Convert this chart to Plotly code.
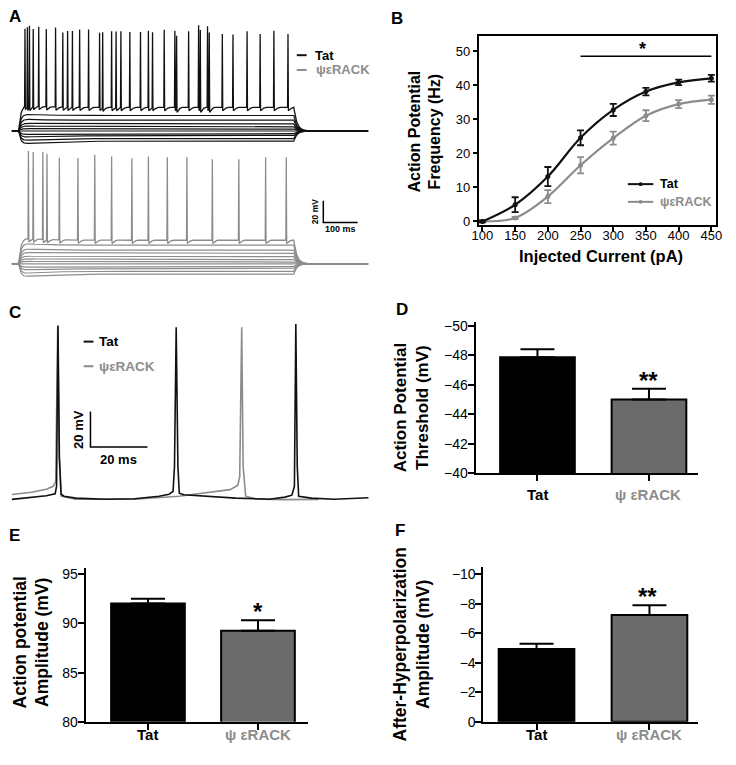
import numpy as np
import plotly.graph_objects as go

W, H = 736, 765
BLACK = '#111111'
GRAY = '#8c8c8c'
BARGRAY = '#6b6b6b'
FONT = 'Liberation Sans, Arial, sans-serif'

def X(px):
    return px / W

def Y(py):
    return 1 - py / H

# ---------------- Panel A data (ms, mV relative to rest) ----------------
A_step_on, A_step_off = 0, 800
A_t0, A_t1 = -20, 1017
tat_steps = [14.3, 10.0, 6.6, 4.3, 2.1, -0.3, -2.5, -4.5, -7.0, -9.4]
tat_spiking_level = 21.8
tat_spike_t = [18, 25, 31, 42, 58, 80, 107, 128, 142, 156, 177, 203, 235, 244, 270, 283, 297,
               323, 354, 377, 389, 423, 454, 459, 494, 523, 528, 549, 554, 592, 623, 664, 702, 742, 783]
tat_spike_peak = [93.6, 95.8, 97.6, 93.6, 95.2, 93.6, 95.2, 90.6, 92.1, 92.1, 93.6, 93.6, 90.6, 92.1,
                  92.1, 92.1, 92.1, 91.5, 91.5, 92.7, 91.5, 93.6, 92.7, 89.7, 92.1, 97.6, 95.2, 96.7,
                  92.7, 89.7, 89.1, 92.1, 89.7, 92.7, 89.7]
psi_steps = [17.3, 12.7, 9.7, 6.6, 4.3, 2.1, -0.3, -2.5, -4.5, -7.0, -9.4]
psi_spiking_level = 21.8
psi_spike_t = [28, 42, 70, 82, 118, 172, 221, 270, 329, 377, 432, 489, 563, 640, 718, 778]
psi_spike_peak = [102.7, 102.1, 102.7, 101.5, 97.6, 97.6, 100.6, 99.1, 97.6, 99.1, 98.5, 98.5,
                  96.7, 96.7, 98.5, 98.5]
psi_offset = -122.7

# ---------------- Panel B data ----------------
current = [100, 150, 200, 250, 300, 350, 400, 450]
freq_tat = [0, 4.9, 13.2, 24.6, 32.8, 38.2, 40.9, 42.1]
err_tat = [0.3, 2.2, 2.8, 2.2, 1.8, 1.1, 0.8, 1.0]
freq_psi = [0, 1.0, 7.3, 16.5, 24.5, 31.1, 34.5, 35.8]
err_psi = [0.2, 0.3, 1.9, 2.4, 1.9, 1.6, 1.2, 1.2]

# ---------------- Panel C data (ms, mV) ----------------
c_tat_t = [1.7, 8.6, 13.8, 16.9, 17.4, 17.9, 18.4, 19.0, 20.0, 24.1, 34.5, 44.8, 53.4, 56.9, 58.3,
           58.8, 59.4, 60.0, 60.5, 62.1, 69.0, 80.3, 92.1, 97.6, 100.0, 100.9, 101.4, 101.9, 102.4,
           106.9, 114.8, 122.4, 126.9]
c_tat_v = [-60.7, -59.4, -58.6, -57.5, -53.3, 37.4, -36.7, -57.8, -58.9, -60.0, -60.6, -60.3, -58.9,
           -57.8, -56.1, -42.2, 36.5, -42.2, -57.2, -58.1, -58.9, -60.0, -60.6, -59.4, -58.3, -53.3,
           38.3, -42.2, -58.9, -60.0, -60.6, -60.3, -59.8]
c_psi_t = [1.7, 8.6, 13.8, 16.2, 17.1, 17.8, 18.3, 19.0, 24.1, 44.8, 60.3, 69.0, 78.3, 81.0, 81.7,
           82.4, 82.9, 83.8, 87.2, 96.6, 109.3]
c_psi_v = [-57.9, -56.7, -55.0, -53.3, -50.6, 36.7, -36.7, -58.9, -60.6, -60.6, -58.9, -57.1, -55.2,
           -52.8, -47.8, 36.5, -42.2, -58.9, -60.4, -60.8, -60.7]

# ---------------- Panels D-F data ----------------
groups = ['Tat', 'ψεRACK']
thr_mean = [-47.85, -45.0]
thr_sem = [0.55, 0.73]
amp_mean = [92.03, 89.26]
amp_sem = [0.47, 1.07]
ahp_mean = [-4.93, -7.24]
ahp_sem = [0.36, 0.65]

fig = go.Figure()

# ---- Panel A traces ----
def sweep(d, spikes_t=(), spikes_p=()):
    t = np.arange(A_t0, A_t1, 1.0)
    extra = []
    for ts in spikes_t:
        extra += [ts - 1.2, ts, ts + 1.2]
    t = np.unique(np.concatenate([t, np.array(extra, dtype=float)]))
    v = np.zeros_like(t)
    on = (t >= A_step_on) & (t <= A_step_off)
    ti = t[on] - A_step_on
    sag = 1 + (0.35 if d < 0 else 0.12) * np.exp(-ti / 60.0)
    v[on] = d * (1 - np.exp(-ti / 6.0)) * sag
    off = t > A_step_off
    v[off] = d * np.exp(-(t[off] - A_step_off) / 9.0)
    for ts, p in zip(spikes_t, spikes_p):
        v += np.interp(t - ts, [-1.2, 0, 1.2, 4, 14], [0, p - d, -3, -2, 0], left=0, right=0)
    return t, v

for d in tat_steps:
    t, v = sweep(d)
    fig.add_trace(go.Scatter(x=t, y=v, mode='lines', line=dict(color=BLACK, width=1.2),
                             xaxis='x', yaxis='y', hoverinfo='skip'))
t, v = sweep(tat_spiking_level, tat_spike_t, tat_spike_peak)
fig.add_trace(go.Scatter(x=t, y=v, mode='lines', line=dict(color=BLACK, width=1.3),
                         xaxis='x', yaxis='y', hoverinfo='skip'))
for d in psi_steps:
    t, v = sweep(d)
    fig.add_trace(go.Scatter(x=t, y=v + psi_offset, mode='lines', line=dict(color=GRAY, width=1.2),
                             xaxis='x', yaxis='y', hoverinfo='skip'))
t, v = sweep(psi_spiking_level, psi_spike_t, psi_spike_peak)
fig.add_trace(go.Scatter(x=t, y=v + psi_offset, mode='lines', line=dict(color=GRAY, width=1.3),
                         xaxis='x', yaxis='y', hoverinfo='skip'))

# ---- Panel B ----
fig.add_trace(go.Scatter(x=current, y=freq_psi, mode='lines+markers', line=dict(color=GRAY, width=2.2, shape='spline'),
                         marker=dict(color=GRAY, size=5),
                         error_y=dict(type='data', array=err_psi, color=GRAY, thickness=1.8, width=3.5),
                         xaxis='x2', yaxis='y2'))
fig.add_trace(go.Scatter(x=current, y=freq_tat, mode='lines+markers', line=dict(color=BLACK, width=2.2, shape='spline'),
                         marker=dict(color=BLACK, size=5),
                         error_y=dict(type='data', array=err_tat, color=BLACK, thickness=1.8, width=3.5),
                         xaxis='x2', yaxis='y2'))

# ---- Panel C ----
fig.add_trace(go.Scatter(x=c_psi_t, y=c_psi_v, mode='lines', line=dict(color=GRAY, width=1.6),
                         xaxis='x3', yaxis='y3', hoverinfo='skip'))
fig.add_trace(go.Scatter(x=c_tat_t, y=c_tat_v, mode='lines', line=dict(color=BLACK, width=1.6),
                         xaxis='x3', yaxis='y3', hoverinfo='skip'))

# ---- Bars D, E, F ----
def bars(means, sems, xa, ya, up_is_negative):
    err = dict(type='data', symmetric=False, color='black', thickness=2, width=17)
    if up_is_negative:
        err.update(array=[0, 0], arrayminus=sems)
    else:
        err.update(array=sems, arrayminus=[0, 0])
    fig.add_trace(go.Bar(x=[0, 1], y=means, width=0.67,
                         marker=dict(color=['black', BARGRAY], line=dict(color='black', width=2)),
                         error_y=err, xaxis=xa, yaxis=ya))

bars(thr_mean, thr_sem, 'x4', 'y4', True)
bars(amp_mean, amp_sem, 'x5', 'y5', False)
bars(ahp_mean, ahp_sem, 'x6', 'y6', True)

tickfont = dict(family=FONT, size=14, color='black')

def bar_x(n, dom, rng):
    return dict(anchor=f'y{n}', domain=dom, range=rng, showline=True, linewidth=2, linecolor='black',
                ticks='outside', ticklen=6, tickwidth=2, tickcolor='black', tickvals=[0, 1],
                showticklabels=False, showgrid=False, zeroline=False)

def bar_y(n, dom, rng, tv):
    return dict(anchor=f'x{n}', domain=dom, range=rng, tickvals=tv, showline=True, linewidth=2,
                linecolor='black', ticks='outside', ticklen=6, tickwidth=2, tickcolor='black',
                showgrid=False, zeroline=False, tickfont=tickfont, ticklabelstandoff=-3)

fig.update_layout(
    width=W, height=H, margin=dict(l=0, r=0, t=0, b=0), paper_bgcolor='white', plot_bgcolor='white',
    showlegend=False,
    xaxis=dict(anchor='y', domain=[X(0), X(370)], range=[-34.3, 1022.9], visible=False),
    yaxis=dict(anchor='x', domain=[Y(285), Y(0)], range=[-141.8, 117.3], visible=False),
    xaxis2=dict(anchor='y2', domain=[X(480), X(722)], range=[94, 457.5], showline=True, mirror=True,
                linewidth=1.5, linecolor='black', ticks='outside', ticklen=4, tickwidth=1.5,
                tickcolor='black', tickvals=current, showgrid=False, zeroline=False, ticklabelstandoff=-7,
                tickfont=dict(family=FONT, size=13, color='black')),
    yaxis2=dict(anchor='x2', domain=[Y(225), Y(33)], range=[-1.2, 54.4], showline=True, mirror=True,
                linewidth=1.5, linecolor='black', ticks='outside', ticklen=4, tickwidth=1.5,
                tickcolor='black', tickvals=[0, 10, 20, 30, 40, 50], showgrid=False, zeroline=False,
                tickfont=dict(family=FONT, size=13, color='black')),
    xaxis3=dict(anchor='y3', domain=[X(0), X(370)], range=[0, 127.6], visible=False),
    yaxis3=dict(anchor='x3', domain=[Y(515), Y(290)], range=[-67.2, 57.8], visible=False),
    xaxis4=bar_x(4, [X(477), X(703)], [-0.555, 1.436]),
    yaxis4=bar_y(4, [Y(476.7), Y(322.7)], [-40, -50.27], [-50, -48, -46, -44, -42, -40]),
    xaxis5=bar_x(5, [X(80), X(306)], [-0.567, 1.451]),
    yaxis5=bar_y(5, [Y(729.3), Y(573.3)], [80, 95.6], [80, 85, 90, 95]),
    xaxis6=bar_x(6, [X(485), X(703)], [-0.47, 1.426]),
    yaxis6=bar_y(6, [Y(729.3), Y(571.7)], [0, -10.5], [0, -2, -4, -6, -8, -10]),
)

ann = []
shapes = []

def text(px, py, s, size=14, color='black', bold=True, angle=0, xanchor='center', yanchor='middle'):
    ann.append(dict(x=X(px), y=Y(py), xref='paper', yref='paper', text=(f'<b>{s}</b>' if bold else s),
                    showarrow=False, textangle=angle, xanchor=xanchor, yanchor=yanchor,
                    font=dict(family=FONT, size=size, color=color)))

def pline(x0, y0, x1, y1, color='black', width=2):
    shapes.append(dict(type='line', xref='paper', yref='paper', x0=X(x0), y0=Y(y0), x1=X(x1), y1=Y(y1),
                       line=dict(color=color, width=width)))

# panel letters
for L, px, py in [('A', 8, 13), ('B', 397, 15), ('C', 8, 313), ('D', 402, 310), ('E', 8, 540), ('F', 400, 535)]:
    text(px, py, L, size=17)

# Panel A legend and scale bar
pline(295, 52, 305, 52, BLACK, 2)
text(312, 52, 'Tat', size=13, xanchor='left')
pline(295, 67, 305, 67, GRAY, 2)
text(313, 67, 'ψεRACK', size=13, color=GRAY, xanchor='left')
shapes.append(dict(type='path', xref='x', yref='y', path='M 885.7,-64.5 L 885.7,-84.5 L 985.7,-84.5',
                   line=dict(color='black', width=1.5)))
text(313, 211, '20 mV', size=8.5, angle=-90)
text(340, 229, '100 ms', size=9)

# Panel B titles, legend, significance
text(425, 129, 'Action Potential<br>Frequency (Hz)', size=16, angle=-90)
text(605, 256, 'Injected Current (pA)', size=16.5)
pline(632, 183, 658, 183, BLACK, 2)
shapes.append(dict(type='circle', xref='paper', yref='paper', x0=X(643), x1=X(647), y0=Y(185), y1=Y(181),
                   fillcolor=BLACK, line=dict(width=0)))
text(663, 183, 'Tat', size=12.5, xanchor='left')
pline(632, 201, 658, 201, GRAY, 2)
shapes.append(dict(type='circle', xref='paper', yref='paper', x0=X(643), x1=X(647), y0=Y(203), y1=Y(199),
                   fillcolor=GRAY, line=dict(width=0)))
text(663, 201, 'ψεRACK', size=12.5, color=GRAY, xanchor='left')
shapes.append(dict(type='line', xref='x2', yref='y2', x0=250, x1=450, y0=48.6, y1=48.6,
                   line=dict(color='black', width=1.5)))
text(647, 46, '*', size=18)

# Panel C legend and scale bar
pline(78, 343, 88, 343, BLACK, 2)
text(92, 343, 'Tat', size=13.5, xanchor='left')
pline(78, 368, 88, 368, GRAY, 2)
text(92, 368, 'ψεRACK', size=13.5, color=GRAY, xanchor='left')
shapes.append(dict(type='path', xref='x3', yref='y3', path='M 29.3,-11.1 L 29.3,-31.1 L 49.3,-31.1',
                   line=dict(color='black', width=1.5)))
text(73, 432, '20 mV', size=13, angle=-90)
text(113, 463, '20 ms', size=13)

# Panel D
text(412, 410, 'Action Potential<br>Threshold (mV)', size=17, angle=-90)
text(540, 498, 'Tat', size=15)
text(653, 498, 'ψ εRACK', size=15, color=GRAY)
text(653, 382, '**', size=24)

# Panel E
text(25, 649, 'Action potential<br>Amplitude (mV)', size=17.5, angle=-90)
text(143.5, 742, 'Tat', size=15)
text(255.5, 742, 'ψ εRACK', size=15, color=GRAY)
text(256, 617, '*', size=24)

# Panel F
text(412, 651, 'After-Hyperpolarization<br>Amplitude (mV)', size=17.5, angle=-90)
text(539, 742, 'Tat', size=15)
text(654, 742, 'ψ εRACK', size=15, color=GRAY)
text(652, 602, '**', size=24)

fig.update_layout(annotations=ann, shapes=shapes)
fig.write_html('out.html', config={'displayModeBar': False},
               post_script="document.body.style.margin='0px';document.body.style.overflow='hidden';")
